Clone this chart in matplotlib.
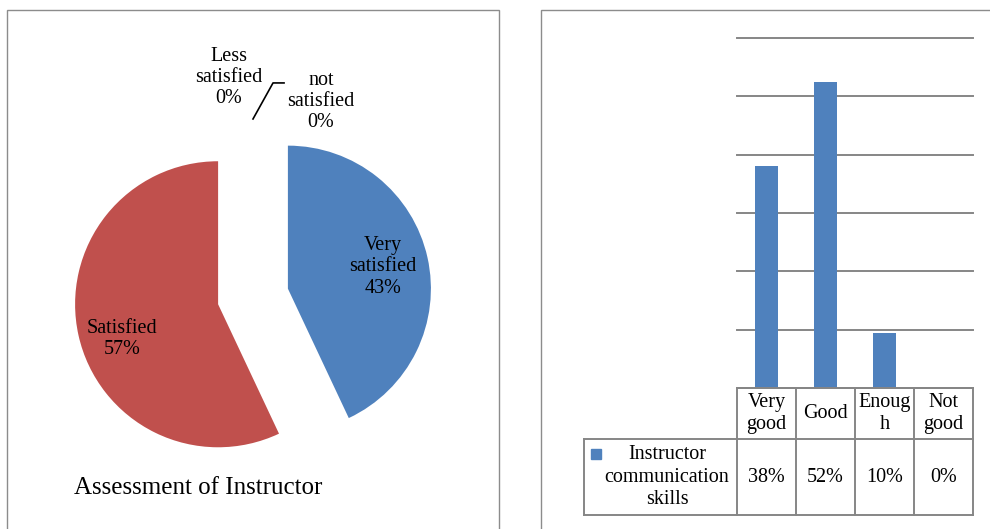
import matplotlib
matplotlib.use("Agg")
import matplotlib.pyplot as plt
from matplotlib.patches import Rectangle
import numpy as np

plt.rcParams["font.family"] = ["Liberation Serif", "DejaVu Serif"]

# left: pie
pie_labels = ["Very\nsatisfied", "Satisfied", "Less\nsatisfied", "not\nsatisfied"]
pie_values = [43, 57, 0, 0]
pie_title = "Assessment of Instructor"

# right: bars + data table
bar_categories = ["Very\ngood", "Good", "Enoug\nh", "Not\ngood"]
bar_values = [38.1, 52.4, 9.5, 0]
bar_table_text = ["38%", "52%", "10%", "0%"]
series_name = "Instructor\ncommunication\nskills"

BLUE = "#4F81BD"
RED = "#C0504D"
BORDER = "#8c8c8c"
GRID = "#868686"

W, H = 990, 529
fig = plt.figure(figsize=(W / 100, H / 100), dpi=100)


def fx(px):
    return px / W


def fy(py):
    # pixel from top -> figure fraction from bottom
    return 1 - py / H


# panel borders
fig.add_artist(Rectangle((fx(7), fy(540)), fx(492), fy(10) - fy(540),
                         transform=fig.transFigure, fill=False,
                         edgecolor=BORDER, lw=1.0))
fig.add_artist(Rectangle((fx(541), fy(540)), fx(470), fy(10) - fy(540),
                         transform=fig.transFigure, fill=False,
                         edgecolor=BORDER, lw=1.0))

# ---- pie ----
ax1 = fig.add_axes([fx(7), 0, fx(492), fy(10)])
ax1.pie(pie_values, colors=[BLUE, RED, BLUE, RED], startangle=90,
        counterclock=False, explode=[0.25, 0.25, 0, 0],
        wedgeprops=dict(linewidth=0))
ax1.set_xlim(-1.72, 1.72)
ax1.set_ylim(-1.626, 2.003)
ax1.axis("off")

label_pos = [(0.909, 0.206), (-0.916, -0.297), (-0.168, 1.531), (0.476, 1.364)]
for lab, val, (lx, ly) in zip(pie_labels, pie_values, label_pos):
    ax1.text(lx, ly, f"{lab}\n{val}%", ha="center", va="center",
             fontsize=14.5, linespacing=1.17)
ax1.plot([0, 0.14, 0.217], [1.241, 1.493, 1.493], color="black", lw=1.2)
ax1.text(-0.384, -1.339, pie_title, ha="center", va="center", fontsize=18)

# ---- bar chart ----
ax2 = fig.add_axes([fx(737), fy(388), fx(236), fy(38) - fy(388)])
x = np.arange(len(bar_values))
ax2.bar(x, bar_values, width=0.4, color=BLUE, zorder=3)
ax2.set_xlim(-0.5, len(bar_values) - 0.5)
ax2.set_ylim(0, 60)
ax2.set_yticks(np.arange(0, 61, 10))
ax2.yaxis.grid(True, color=GRID, lw=1.4)
for gl in ax2.yaxis.get_gridlines():
    gl.set_clip_on(False)
ax2.set_xticks([])
ax2.tick_params(axis="y", length=0, labelleft=False)
for s in ax2.spines.values():
    s.set_visible(False)

# data table under the axis
ypx = 350 / 60.0
xpx = 236 / len(bar_values)
hdr_bot = -51 / ypx
row_bot = -127 / ypx
lab_left = -0.5 - 153 / xpx
right = len(bar_values) - 0.5
kw = dict(color=GRID, lw=1.4, clip_on=False, zorder=4)
ax2.plot([-0.5, right], [0, 0], **kw)
ax2.plot([lab_left, right], [hdr_bot, hdr_bot], **kw)
ax2.plot([lab_left, right], [row_bot, row_bot], **kw)
for xv in np.arange(-0.5, right + 0.01, 1.0):
    ax2.plot([xv, xv], [0, row_bot], **kw)
ax2.plot([lab_left, lab_left], [hdr_bot, row_bot], **kw)

for i, (cat, txt) in enumerate(zip(bar_categories, bar_table_text)):
    ax2.text(i, hdr_bot / 2, cat, ha="center", va="center", fontsize=14.5,
             linespacing=1.25, clip_on=False)
    ax2.text(i, (hdr_bot + row_bot) / 2, txt, ha="center", va="center",
             fontsize=14.5, clip_on=False)

ax2.text(-0.5 - 70 / xpx, (hdr_bot + row_bot) / 2, series_name, ha="center",
         va="center", fontsize=14.5, linespacing=1.25, clip_on=False)
ax2.plot([-0.5 - 141 / xpx], [-66 / ypx], marker="s", markersize=7.2,
         color=BLUE, clip_on=False, lw=0)

fig.savefig("out.png", dpi=100)
